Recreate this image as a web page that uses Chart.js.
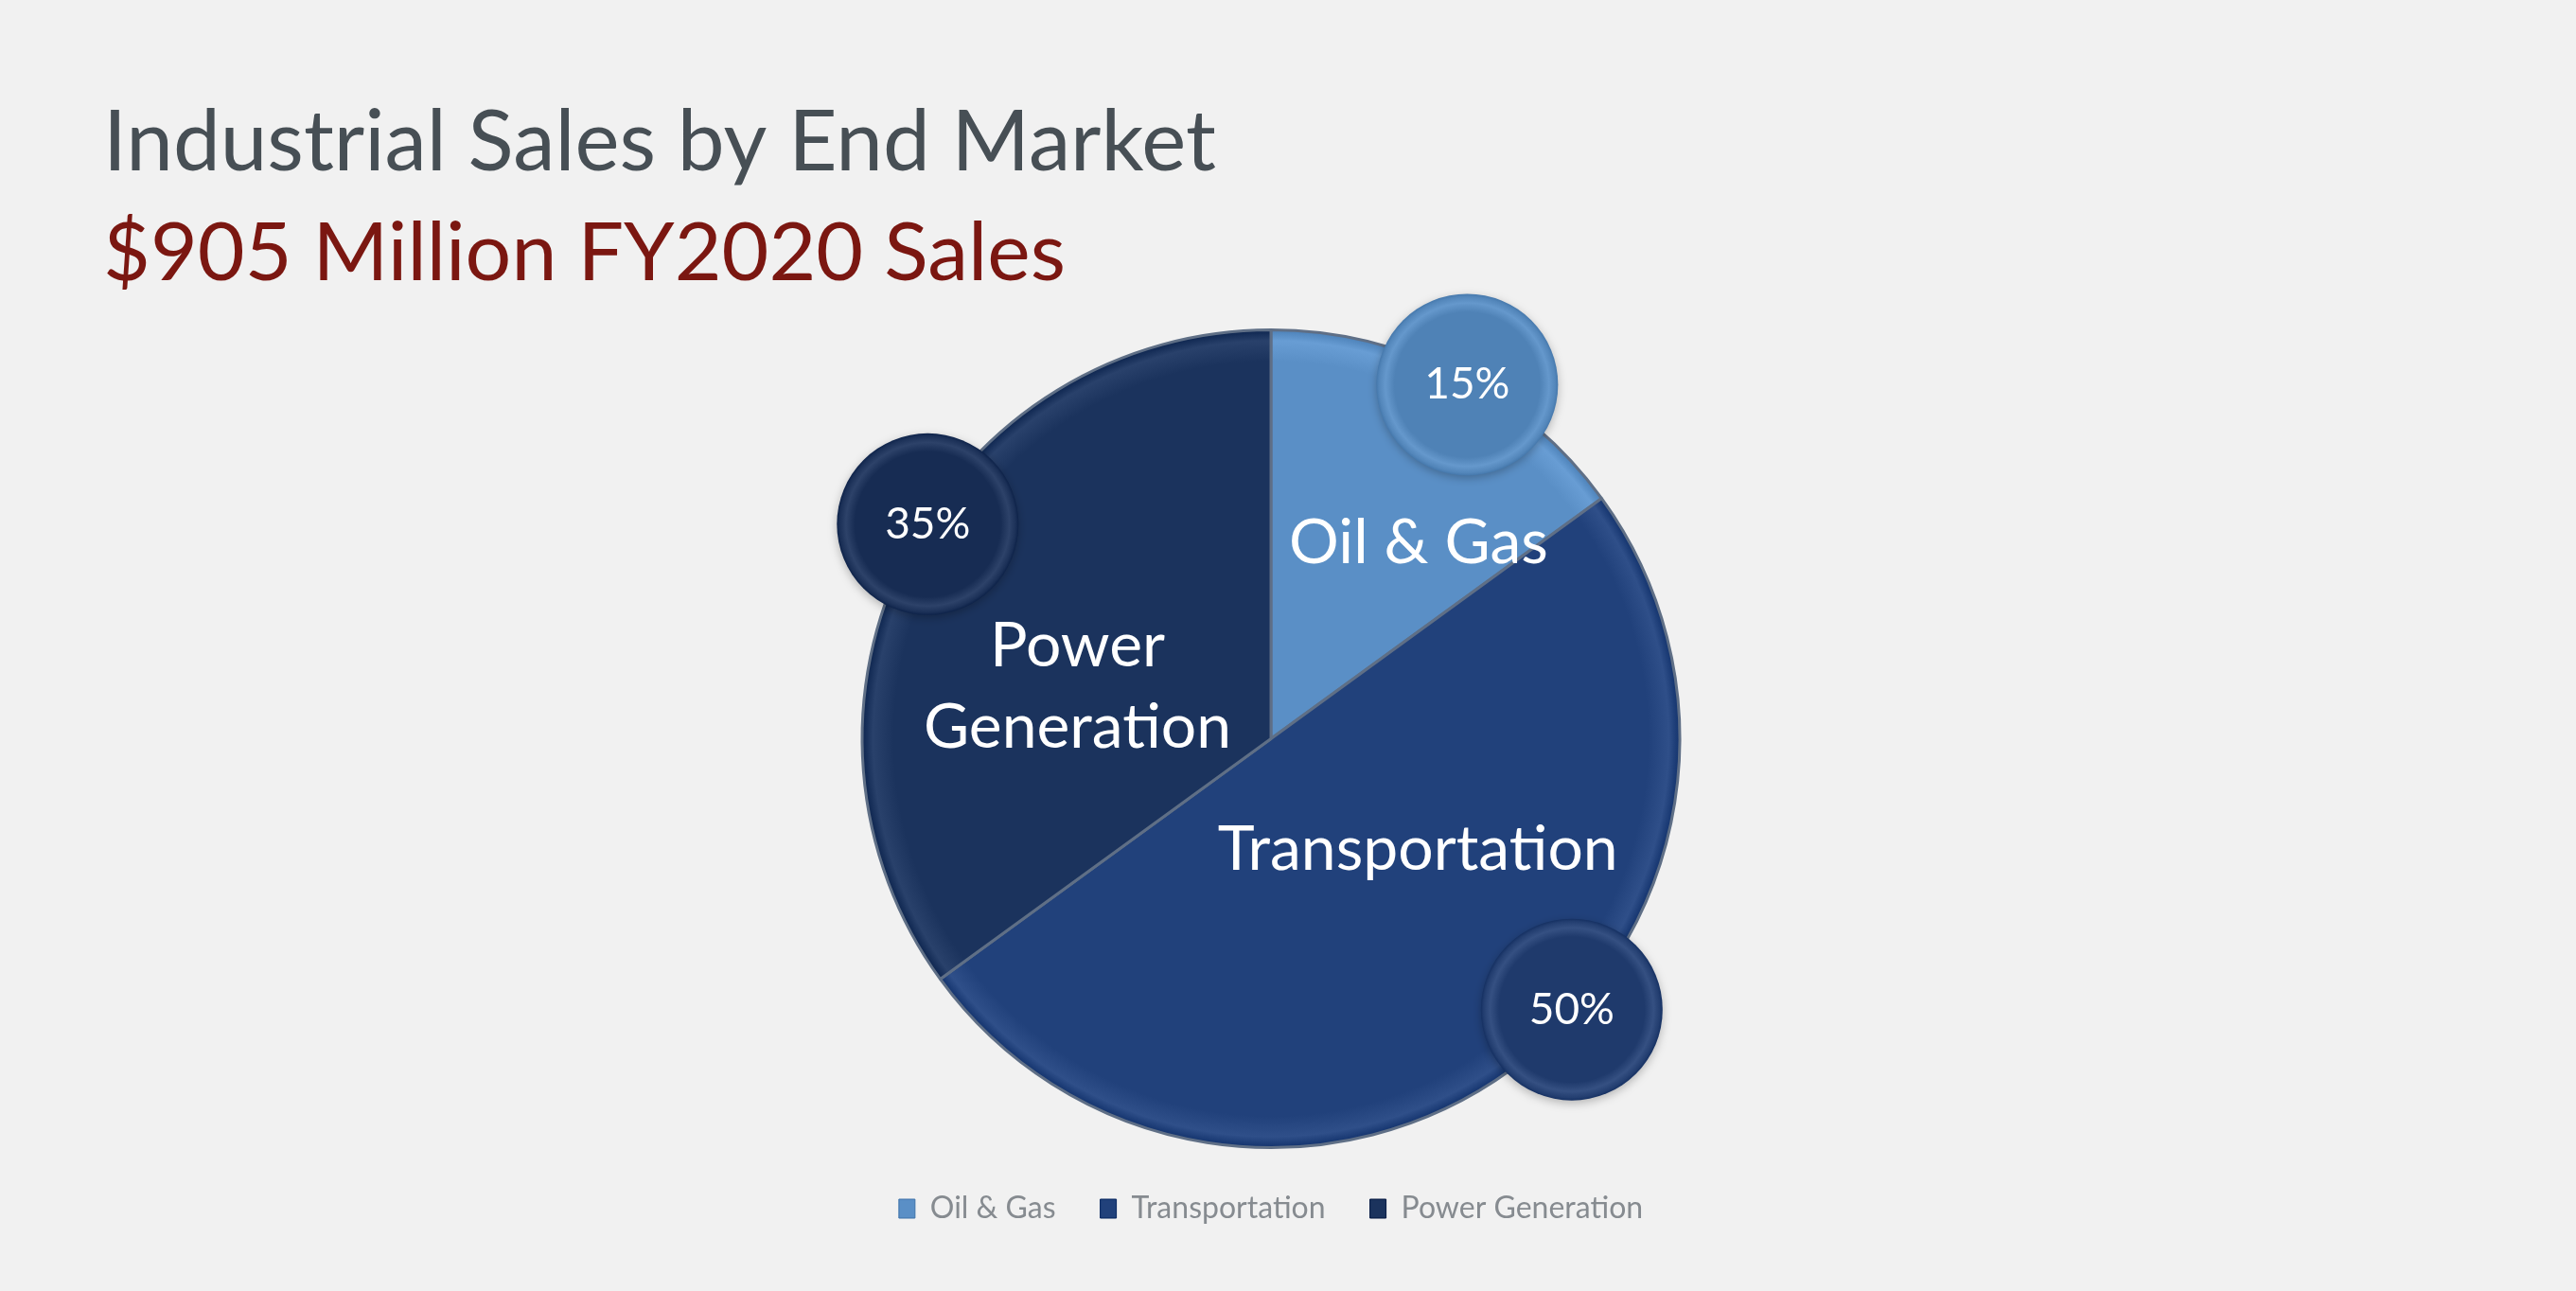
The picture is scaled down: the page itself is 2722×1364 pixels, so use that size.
<!DOCTYPE html>
<html>
<head>
<meta charset="utf-8">
<title>Industrial Sales by End Market</title>
<script src="https://cdn.jsdelivr.net/npm/chart.js@4.4.1/dist/chart.umd.min.js"></script>
<style>
  html, body { margin: 0; padding: 0; background: #f1f1f1; }
  #wrap { width: 2722px; height: 1364px; }
</style>
</head>
<body>
<div id="wrap"><canvas id="sales_chart" width="2722" height="1364"></canvas></div>

<script>
  // data
  const markets = ["Oil & Gas", "Transportation", "Power Generation"];
  const shares = [15, 50, 35];
  // text written inside each slice
  const sliceLabels = [["Oil & Gas"], ["Transportation"], ["Power", "Generation"]];

  // colours
  const sliceColors = ["#5a8fc6", "#21417b", "#1b335d"];
  const bubbleColors = ["#4f82b6", "#1f3a6c", "#172c53"];

  // lighten / darken a hex colour
  function shade(hex, amt) {
    let n = parseInt(hex.slice(1), 16);
    let r = Math.min(255, Math.max(0, (n >> 16) + amt));
    let g = Math.min(255, Math.max(0, ((n >> 8) & 255) + amt));
    let b = Math.min(255, Math.max(0, (n & 255) + amt));
    return "rgb(" + r + "," + g + "," + b + ")";
  }

  // slice fill with a soft bevel near the rim
  function sliceFill(c) {
    let base = sliceColors[c.dataIndex];
    let area = c.chart.chartArea;
    if (!area) return base;
    let cx = (area.left + area.right) / 2, cy = (area.top + area.bottom) / 2;
    let r = Math.min(area.right - area.left, area.bottom - area.top) / 2;
    let g = c.chart.ctx.createRadialGradient(cx, cy, 0, cx, cy, r);
    g.addColorStop(0, base);
    g.addColorStop(0.92, base);
    g.addColorStop(0.97, shade(base, 14));
    g.addColorStop(1, shade(base, -18));
    return g;
  }

  // labels inside the slices
  const sliceTextPlugin = {
    id: "sliceText",
    afterDatasetsDraw(chart, args, opts) {
      const ctx = chart.ctx;
      const meta = chart.getDatasetMeta(0);
      ctx.save();
      ctx.fillStyle = "#ffffff";
      ctx.font = "66px Lato";
      ctx.textAlign = "center";
      ctx.textBaseline = "middle";
      meta.data.forEach(function (arc, i) {
        let a = (arc.startAngle + arc.endAngle) / 2 + opts.shift[i] * Math.PI / 180;
        let d = arc.outerRadius * opts.dist[i];
        let x = arc.x + Math.cos(a) * d, y = arc.y + Math.sin(a) * d;
        let lines = sliceLabels[i];
        let lh = 86;
        lines.forEach(function (t, k) {
          ctx.fillText(t, x, y + (k - (lines.length - 1) / 2) * lh);
        });
      });
      ctx.restore();
    }
  };

  // percentage bubbles sitting on the rim
  const bubblePlugin = {
    id: "bubbles",
    afterDatasetsDraw(chart, args, opts) {
      const ctx = chart.ctx;
      const meta = chart.getDatasetMeta(0);
      const total = shares.reduce(function (s, v) { return s + v; }, 0);
      meta.data.forEach(function (arc, i) {
        let a = (arc.startAngle + arc.endAngle) / 2 + opts.shift[i] * Math.PI / 180;
        let d = arc.outerRadius * opts.dist;
        let bx = arc.x + Math.cos(a) * d, by = arc.y + Math.sin(a) * d;
        let br = opts.radius;
        let col = bubbleColors[i];

        ctx.save();
        ctx.shadowColor = "rgba(0,0,0,0.25)";
        ctx.shadowBlur = 10;
        ctx.shadowOffsetY = 3;
        let g = ctx.createRadialGradient(bx, by, 0, bx, by, br);
        g.addColorStop(0, col);
        g.addColorStop(0.8, col);
        g.addColorStop(0.9, shade(col, 22));
        g.addColorStop(0.97, shade(col, 4));
        g.addColorStop(1, shade(col, -10));
        ctx.fillStyle = g;
        ctx.beginPath();
        ctx.arc(bx, by, br, 0, Math.PI * 2);
        ctx.fill();
        ctx.restore();

        ctx.save();
        ctx.fillStyle = "#ffffff";
        ctx.font = "46px Lato";
        ctx.textAlign = "center";
        ctx.textBaseline = "middle";
        ctx.fillText(Math.round(shares[i] / total * 100) + "%", bx, by);
        ctx.restore();
      });
    }
  };

  new Chart(document.getElementById("sales_chart"), {
    type: "pie",
    data: {
      labels: markets,
      datasets: [{
        data: shares,
        backgroundColor: sliceFill,
        borderColor: "#5f6f86",
        borderWidth: 3
      }]
    },
    options: {
      responsive: false,
      animation: false,
      layout: { padding: { top: 98, left: 109, right: 145, bottom: 61 } },
      plugins: {
        title: {
          display: true,
          text: "Industrial Sales by End Market",
          align: "start",
          color: "#474f55",
          font: { family: "Lato", size: 89, weight: "normal", lineHeight: 1.2 },
          padding: { top: 0, bottom: 0 }
        },
        subtitle: {
          display: true,
          text: "$905 Million FY2020 Sales",
          align: "start",
          color: "#7b1711",
          font: { family: "Lato", size: 86, weight: "normal", lineHeight: 1.2 },
          padding: { top: 12, bottom: 27 }
        },
        legend: {
          position: "bottom",
          labels: {
            color: "#868b90",
            font: { family: "Lato", size: 32 },
            boxWidth: 17,
            boxHeight: 20,
            padding: 47,
            generateLabels: function () {
              return markets.map(function (m, i) {
                return {
                  text: m,
                  fillStyle: sliceColors[i],
                  strokeStyle: shade(sliceColors[i], -30),
                  lineWidth: 1,
                  fontColor: "#868b90",
                  hidden: false,
                  index: i
                };
              });
            }
          }
        },
        tooltip: { enabled: false },
        sliceText: { shift: [10, -17, -12], dist: [0.6, 0.45, 0.49] },
        bubbles: { shift: [2, -12, 5], dist: 0.99, radius: 96 }
      }
    },
    plugins: [sliceTextPlugin, bubblePlugin]
  });
</script>
</body>
</html>
